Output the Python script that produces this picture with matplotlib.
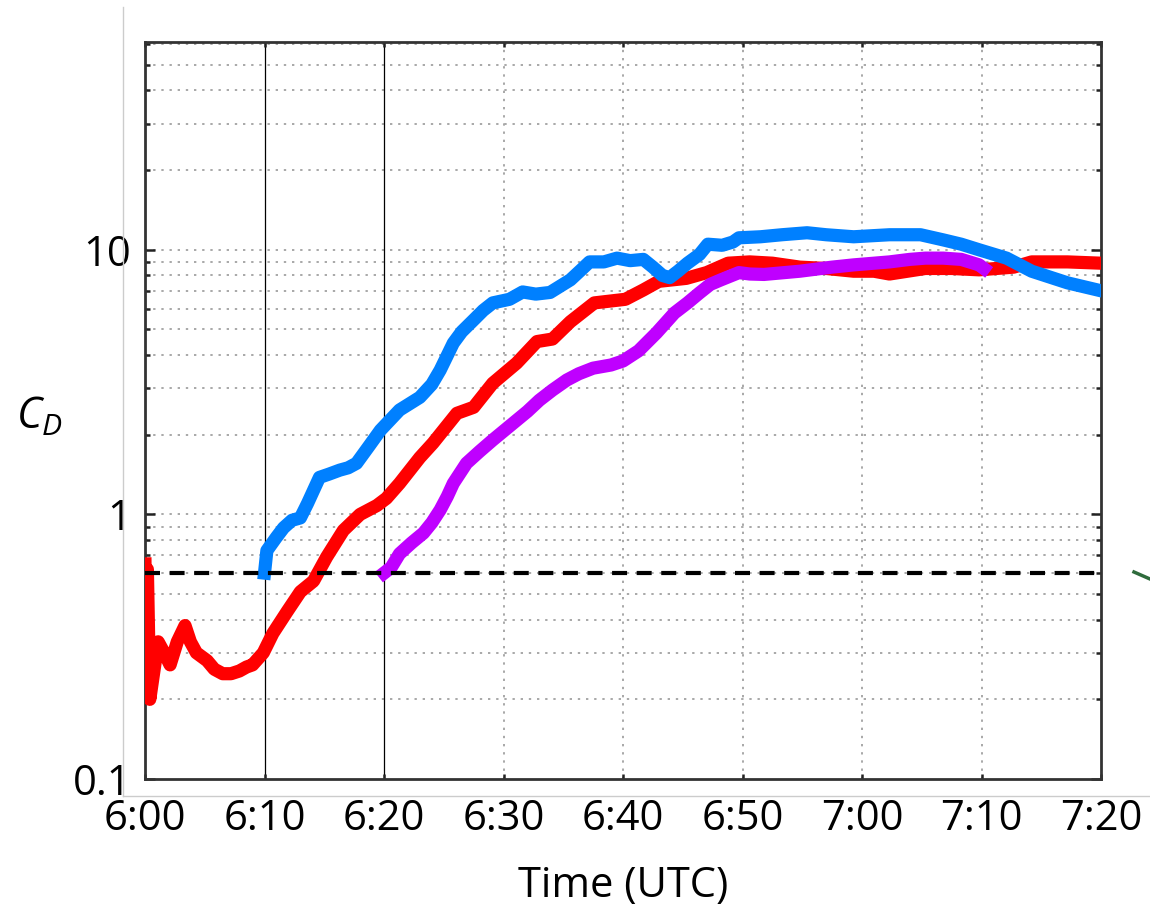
import matplotlib
matplotlib.use("Agg")
import matplotlib.pyplot as plt
from matplotlib.lines import Line2D
from matplotlib.ticker import FixedLocator, NullFormatter
import numpy as np

# ---------------- data (minutes after 6:00 UTC, C_D) ----------------
red_t = [0, 0.1, 0.2, 0.4, 1.1, 1.6, 2.1, 2.7, 3.35, 3.8, 4.3, 5.2, 5.8, 6.5, 7.2, 7.9,
         8.5, 9.0, 9.9, 10.7, 11.9, 13.0, 14.1, 15.2, 16.6, 18.0, 19.4, 20.2, 21.3, 23.0,
         24.1, 26.1, 27.5, 29.1, 31.1, 32.8, 34.1, 35.6, 37.6, 40.2, 41.7, 43.0, 45.3,
         47.0, 48.8, 50.6, 52.5, 54.8, 57.0, 59.3, 61.0, 62.3, 65.3, 67.5, 69.8, 72.7,
         74.2, 77.2, 80.0]
red_v = [0.65, 0.24, 0.62, 0.20, 0.33, 0.30, 0.27, 0.33, 0.38, 0.33, 0.30, 0.28, 0.26, 0.25,
         0.25, 0.256, 0.265, 0.27, 0.30, 0.355, 0.43, 0.51, 0.56, 0.69, 0.87, 1.0, 1.08,
         1.15, 1.31, 1.64, 1.86, 2.41, 2.54, 3.13, 3.73, 4.5, 4.6, 5.35, 6.3, 6.5, 7.05,
         7.6, 7.8, 8.2, 8.9, 9.0, 8.9, 8.6, 8.5, 8.3, 8.3, 8.1, 8.5, 8.5, 8.4, 8.6, 9.0,
         9.0, 8.9]

blue_t = [10, 10.2, 11.0, 11.6, 12.3, 13.0, 13.6, 14.6, 15.4, 16.3, 17.0, 17.7, 18.7, 19.7,
          21.3, 23.0, 24.0, 24.7, 25.8, 26.5, 27.5, 28.3, 29.1, 30.5, 31.6, 32.7, 33.9,
          35.6, 36.5, 37.2, 38.4, 39.5, 40.6, 41.7, 42.5, 43.3, 43.9, 44.6, 45.4, 46.4,
          47.1, 48.3, 49.2, 49.7, 51.5, 53.3, 55.4, 57.0, 59.3, 62.3, 64.9, 66.8, 68.3,
          69.8, 72.1, 74.2, 77.2, 80.0]
blue_v = [0.6, 0.73, 0.82, 0.89, 0.95, 0.97, 1.1, 1.38, 1.42, 1.47, 1.5, 1.56, 1.8, 2.08,
          2.48, 2.77, 3.1, 3.51, 4.44, 4.9, 5.43, 5.9, 6.3, 6.5, 6.93, 6.8, 6.9, 7.7, 8.4,
          9.0, 9.0, 9.3, 9.1, 9.2, 8.6, 8.0, 7.85, 8.3, 8.9, 9.6, 10.5, 10.4, 10.7, 11.1,
          11.2, 11.4, 11.6, 11.4, 11.2, 11.4, 11.4, 10.9, 10.5, 10.0, 9.3, 8.3, 7.5, 7.0]

purple_t = [20, 20.6, 21.3, 22.3, 23.3, 24.0, 24.7, 25.3, 25.8, 26.9, 28.0, 29.1, 30.8,
            32.0, 33.0, 34.1, 35.3, 36.3, 37.5, 39.0, 40.0, 41.3, 42.8, 44.3, 45.4, 46.4,
            47.3, 48.2, 49.7, 50.6, 51.8, 54.8, 57.5, 59.3, 62.3, 64.0, 65.3, 66.8, 68.3,
            69.8, 70.2]
purple_v = [0.6, 0.63, 0.71, 0.78, 0.85, 0.93, 1.04, 1.17, 1.31, 1.56, 1.73, 1.91, 2.21,
            2.45, 2.7, 2.95, 3.22, 3.4, 3.57, 3.67, 3.8, 4.15, 4.85, 5.77, 6.3, 6.87, 7.4,
            7.7, 8.2, 8.1, 8.07, 8.3, 8.6, 8.77, 9.0, 9.2, 9.3, 9.3, 9.2, 8.77, 8.5]

threshold = 0.6
marker_times = [10, 20]
x_ticks = [0, 10, 20, 30, 40, 50, 60, 70, 80]
x_labels = ['6:00', '6:10', '6:20', '6:30', '6:40', '6:50', '7:00', '7:10', '7:20']
y_major = [0.1, 1, 10]
y_labels = ['0.1', '1', '10']

# ---------------- style ----------------
plt.rcParams['font.family'] = ['Open Sans', 'DejaVu Sans']
plt.rcParams['mathtext.fontset'] = 'custom'
plt.rcParams['mathtext.it'] = 'Open Sans:italic'
plt.rcParams['mathtext.rm'] = 'Open Sans'

W, H = 1150, 910
fig = plt.figure(figsize=(W / 100, H / 100), dpi=100)
L, R, B, T = 145, 1101, 779, 42
ax = fig.add_axes([L / W, 1 - B / H, (R - L) / W, (B - T) / H])

ax.set_yscale('log')
ax.set_xlim(0, 80)
ax.set_ylim(0.1, 61)

# grid
grid_kw = dict(color='#a8a8a8', lw=1.4, ls=(0, (1.2, 3.0)), zorder=0)
minor_vals = [m * 10.0 ** e for e in (-1, 0, 1) for m in range(2, 10) if m * 10.0 ** e < 61]
for v in minor_vals + [1, 10]:
    ax.axhline(v, **grid_kw)
for xt in x_ticks[1:-1]:
    if xt not in marker_times:
        ax.axvline(xt, **grid_kw)
for xt in marker_times:
    ax.axvline(xt, color='black', lw=0.9, zorder=1)

# data lines
lw = 9.5
ax.plot(red_t, red_v, color='#ff0000', lw=lw, zorder=3)
ax.plot(purple_t, purple_v, color='#bf00ff', lw=lw, zorder=4)
ax.plot(blue_t, blue_v, color='#0080ff', lw=lw, zorder=5)
ax.axhline(threshold, color='black', lw=3.0, ls=(0, (3.6, 2.3)), zorder=6)

# ticks
ax.set_xticks(x_ticks)
ax.set_xticklabels(x_labels)
ax.yaxis.set_major_locator(FixedLocator(y_major))
ax.set_yticklabels(y_labels)
ax.yaxis.set_minor_locator(FixedLocator(minor_vals))
ax.yaxis.set_minor_formatter(NullFormatter())
ax.tick_params(axis='both', which='both', direction='in', colors='#222222',
               labelcolor='black', labelsize=30, top=True, right=True, width=1.8)
ax.tick_params(axis='y', which='major', length=7, pad=10)
ax.tick_params(axis='y', which='minor', length=3.5)
ax.tick_params(axis='x', which='major', length=3.5, pad=14)
for s in ax.spines.values():
    s.set_color('#333333')
    s.set_linewidth(2)

ax.set_xlabel('Time (UTC)', fontsize=30, labelpad=18)
fig.text(16 / W, 1 - 418 / H, r'$C_D$', fontsize=31, ha='left', va='center')

# faint frame lines of the source figure
fig.add_artist(Line2D([122.5 / W, 122.5 / W], [1 - 7 / H, 1 - 795.5 / H],
                      transform=fig.transFigure, color='#cccccc', lw=1))
fig.add_artist(Line2D([122.5 / W, 1.0], [1 - 795.5 / H, 1 - 795.5 / H],
                      transform=fig.transFigure, color='#cccccc', lw=1))
# small green fragment at the right edge
fig.add_artist(Line2D([1134 / W, 1150 / W], [1 - 572 / H, 1 - 579 / H],
                      transform=fig.transFigure, color='#2f6b3c', lw=2.5))

fig.savefig('out.png', dpi=100)
